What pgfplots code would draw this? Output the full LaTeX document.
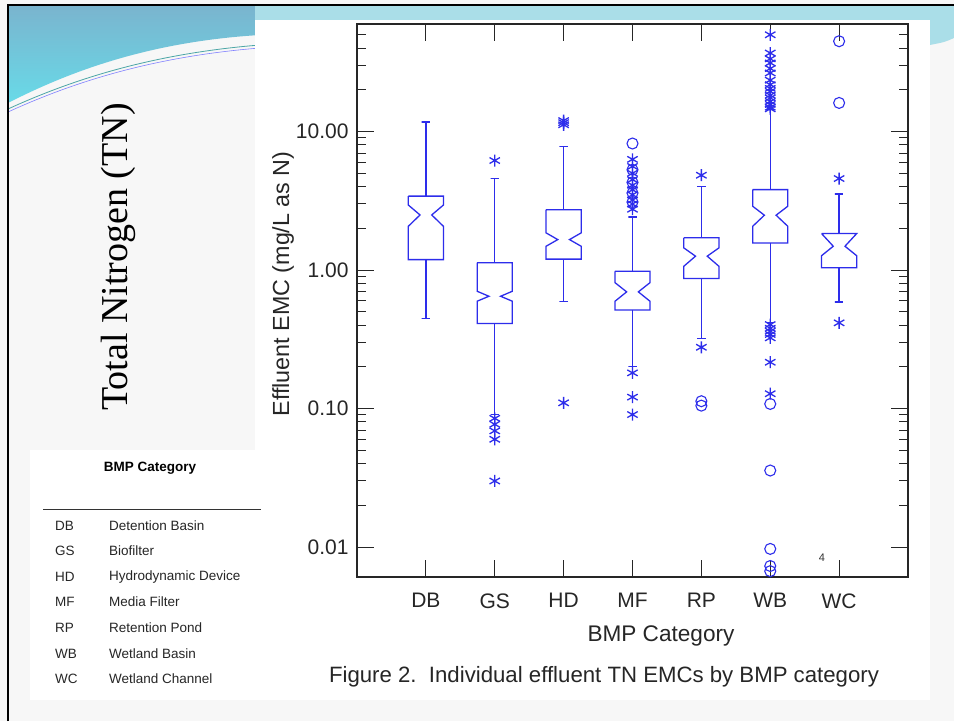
\documentclass[border=0pt]{standalone}
\usepackage{pgfplots}
\pgfplotsset{compat=1.18}
\usepackage{fontspec}
\setmainfont{Liberation Sans}
\newfontfamily\serifTN{Liberation Serif}
\definecolor{bx}{RGB}{45,45,235}
\definecolor{bandA}{RGB}{122,180,206}
\definecolor{bandB}{RGB}{104,218,232}
\definecolor{bandC}{RGB}{170,222,232}
\definecolor{slidebg}{RGB}{247,247,247}
\begin{document}
\begin{tikzpicture}[x=1pt,y=1pt]
\useasboundingbox (0,0) rectangle (954,721);
\fill[slidebg] (0,0) rectangle (954,721);
% slide decoration
\shade[top color=bandA, bottom color=bandB] (8,716) -- (8,618) .. controls (80,655) and (160,680) .. (260,686) -- (260,716) -- cycle;
\draw[teal!70, line width=0.8pt] (8,612) .. controls (80,645) and (160,668) .. (260,676);
\draw[blue!50, line width=0.6pt] (8,609) .. controls (80,642) and (160,665) .. (260,673);
\fill[bandC] (255,701) rectangle (954,716);
\fill[bandC] (930,701) -- (954,701) -- (954,683) .. controls (945,679) .. (930,676) -- cycle;
\fill[white] (255,21) rectangle (930,701);
\fill[white] (30,21) rectangle (262,271);
\draw[black, line width=2pt] (8,0) -- (8,716) -- (954,716);
% left texts
\node[rotate=90, font=\serifTN\fontsize{38}{44}\selectfont] at (118,464) {Total Nitrogen (TN)};
\node[font=\bfseries\fontsize{13.5}{16}\selectfont] at (150,253) {BMP Category};
\draw[black!80, line width=0.8pt] (43,212) -- (261,212);
\foreach \y/\a/\b in {195/DB/Detention Basin,170/GS/Biofilter,144/HD/Hydrodynamic Device,119/MF/Media Filter,93/RP/Retention Pond,67/WB/Wetland Basin,42/WC/Wetland Channel}{
  \node[anchor=west, font=\fontsize{13.5}{16}\selectfont, text=black!85, inner sep=0pt] at (55,\y) {\a};
  \node[anchor=west, font=\fontsize{13.5}{16}\selectfont, text=black!85, inner sep=0pt] at (109,\y) {\b};
}
\begin{axis}[
  at={(357pt,144pt)}, anchor=south west, scale only axis,
  width=551pt, height=553pt,
  ymode=log, xmin=0, xmax=8, ymin=0.00608, ymax=59.8,
  xtick={1,2,3,4,5,6,7}, xticklabels={DB,GS,HD,MF,RP,WB,WC},
  ytick={0.01,0.1,1,10}, yticklabels={0.01,0.10,1.00,10.00},
  minor ytick={0.02,0.03,0.04,0.05,0.06,0.07,0.08,0.09,0.2,0.3,0.4,0.5,0.6,0.7,0.8,0.9,2,3,4,5,6,7,8,9,20,30,40,50},
  major tick length=17pt, minor tick length=9pt,
  tick style={black!85, line width=1pt},
  axis line style={black!85, line width=1.3pt},
  ticklabel style={font=\fontsize{21}{24}\selectfont, text=black!85},
  xticklabel style={yshift=-13pt},
  yticklabel style={xshift=-5pt},
  ylabel={Effluent EMC (mg/L as N)},
  ylabel style={at={(axis description cs:-0.134,0.53)}, anchor=center, font=\fontsize{23.3}{27}\selectfont, text=black!85},
  xlabel={BMP Category},
  xlabel style={at={(axis description cs:0.5517,-0.1067)}, anchor=center, font=\fontsize{22.6}{26}\selectfont, text=black!85},
  clip=false,
  every axis plot/.append style={bx, line width=1.3pt},
]
% DB
\addplot[mark=none] coordinates {(0.745,3.42) (1.255,3.42) (1.255,2.95) (1.085,2.50) (1.255,2.07) (1.255,1.19) (0.745,1.19) (0.745,2.07) (0.915,2.50) (0.745,2.95) (0.745,3.42)};
\addplot[mark=none] coordinates {(1,3.42) (1,11.7) (0.94,11.7) (1.06,11.7)};
\addplot[mark=none] coordinates {(1,1.19) (1,0.447) (0.94,0.447) (1.06,0.447)};
% GS
\addplot[mark=none] coordinates {(1.745,1.13) (2.255,1.13) (2.255,0.703) (2.085,0.647) (2.255,0.596) (2.255,0.411) (1.745,0.411) (1.745,0.596) (1.915,0.647) (1.745,0.703) (1.745,1.13)};
\addplot[mark=none] coordinates {(2,1.13) (2,4.58) (1.94,4.58) (2.06,4.58)};
\addplot[mark=none] coordinates {(2,0.411) (2,0.0905) (1.94,0.0905) (2.06,0.0905)};
% HD
\addplot[mark=none] coordinates {(2.745,2.73) (3.255,2.73) (3.255,1.856) (3.085,1.66) (3.255,1.486) (3.255,1.20) (2.745,1.20) (2.745,1.486) (2.915,1.66) (2.745,1.856) (2.745,2.73)};
\addplot[mark=none] coordinates {(3,2.73) (3,7.83) (2.94,7.83) (3.06,7.83)};
\addplot[mark=none] coordinates {(3,1.20) (3,0.595) (2.94,0.595) (3.06,0.595)};
% MF
\addplot[mark=none] coordinates {(3.745,0.98) (4.255,0.98) (4.255,0.812) (4.085,0.696) (4.255,0.595) (4.255,0.515) (3.745,0.515) (3.745,0.595) (3.915,0.696) (3.745,0.812) (3.745,0.98)};
\addplot[mark=none] coordinates {(4,0.98) (4,2.42) (3.94,2.42) (4.06,2.42)};
\addplot[mark=none] coordinates {(4,0.515) (4,0.202) (3.94,0.202) (4.06,0.202)};
% RP
\addplot[mark=none] coordinates {(4.745,1.71) (5.255,1.71) (5.255,1.446) (5.085,1.26) (5.255,1.065) (5.255,0.868) (4.745,0.868) (4.745,1.065) (4.915,1.26) (4.745,1.446) (4.745,1.71)};
\addplot[mark=none] coordinates {(5,1.71) (5,4.03) (4.94,4.03) (5.06,4.03)};
\addplot[mark=none] coordinates {(5,0.868) (5,0.319) (4.94,0.319) (5.06,0.319)};
% WB
\addplot[mark=none] coordinates {(5.745,3.81) (6.255,3.81) (6.255,2.89) (6.085,2.49) (6.255,2.07) (6.255,1.57) (5.745,1.57) (5.745,2.07) (5.915,2.49) (5.745,2.89) (5.745,3.81)};
\addplot[mark=none] coordinates {(6,3.81) (6,14.4) (5.94,14.4) (6.06,14.4)};
\addplot[mark=none] coordinates {(6,1.57) (6,0.416) (5.94,0.416) (6.06,0.416)};
% WC
\addplot[mark=none] coordinates {(6.745,1.835) (7.255,1.835) (7.085,1.486) (7.255,1.27) (7.255,1.04) (6.745,1.04) (6.745,1.27) (6.915,1.486) (6.745,1.835)};
\addplot[mark=none] coordinates {(7,1.835) (7,3.55) (6.94,3.55) (7.06,3.55)};
\addplot[mark=none] coordinates {(7,1.04) (7,0.589) (6.94,0.589) (7.06,0.589)};
% outliers: asterisks
\addplot[only marks, mark=asterisk, mark size=6pt, line width=1.3pt] coordinates {
(2,6.18) (2,0.085) (2,0.077) (2,0.069) (2,0.060) (2,0.030)
(3,11.2) (3,11.6) (3,12.0) (3,0.110)
(4,6.3) (4,5.6) (4,5.0) (4,4.5) (4,4.1) (4,3.8) (4,3.5) (4,3.2) (4,3.0) (4,2.75) (4,0.181) (4,0.121) (4,0.0905)
(5,4.84) (5,0.277)
(6,50) (6,36.9) (6,33.5) (6,31.3) (6,28.5) (6,26.5) (6,23.5) (6,21.8) (6,20.5) (6,19.5) (6,18.3) (6,17.5) (6,16.5) (6,15.7) (6,15.0) (6,14.6)
(6,0.404) (6,0.38) (6,0.362) (6,0.343) (6,0.324) (6,0.216) (6,0.128)
(7,4.58) (7,0.416)};
% outliers: circles
\addplot[only marks, mark=o, mark size=5.5pt, line width=1.1pt] coordinates {
(4,8.2) (4,5.3) (4,4.3) (4,3.6) (4,3.1)
(5,0.113) (5,0.105)
(6,0.108) (6,0.0357) (6,0.0097) (6,0.0073) (6,0.0067)
(7,44.9) (7,16.1)};
\end{axis}
\node[font=\fontsize{11}{13}\selectfont, text=black!80] at (822,163) {4};
\node[font=\fontsize{22.2}{26}\selectfont, text=black!85] at (604,44) {Figure 2.\ \ Individual effluent TN EMCs by BMP category};
\end{tikzpicture}
\end{document}
